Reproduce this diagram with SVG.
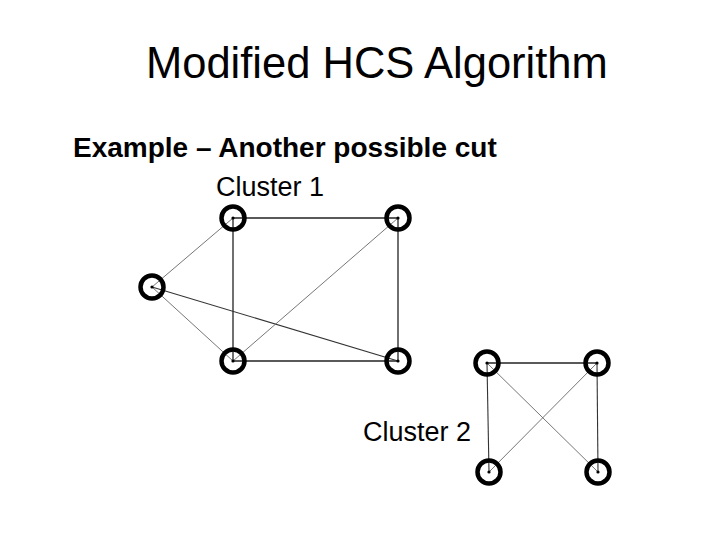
<svg xmlns="http://www.w3.org/2000/svg" width="720" height="540" viewBox="0 0 720 540">
<style>
.t{font-family:"Liberation Sans",Arial,sans-serif;fill:#000}
.n{fill:none;stroke:#000;stroke-width:4.5}
.d{fill:#000}
.e1{stroke:#222;stroke-width:1.3}
.e2{stroke:#666;stroke-width:0.9}
.e3{stroke:#333;stroke-width:1.1}
</style>
<rect width="720" height="540" fill="#fff"/>
<text class="t" x="146" y="78" font-size="43.5">Modified HCS Algorithm</text>
<text class="t" x="73" y="157" font-size="28" font-weight="bold">Example – Another possible cut</text>
<text class="t" x="216" y="196" font-size="27">Cluster 1</text>
<text class="t" x="363" y="441" font-size="27">Cluster 2</text>
<g id="connectors">
<line class="e1" x1="233" y1="218" x2="398" y2="218"/>
<line class="e1" x1="233" y1="218" x2="233" y2="361"/>
<line class="e1" x1="398" y1="218" x2="398" y2="361"/>
<line class="e1" x1="233" y1="361" x2="398" y2="361"/>
<line class="e2" x1="152" y1="287" x2="233" y2="218"/>
<line class="e2" x1="152" y1="287" x2="233" y2="361"/>
<line class="e3" x1="152" y1="287" x2="398" y2="361"/>
<line class="e2" x1="233" y1="361" x2="398" y2="218"/>
<line class="e1" x1="487" y1="363" x2="597" y2="363"/>
<line class="e3" x1="487" y1="363" x2="489" y2="472"/>
<line class="e3" x1="597" y1="363" x2="598" y2="472"/>
<line class="e2" x1="487" y1="363" x2="598" y2="472"/>
<line class="e2" x1="489" y1="472" x2="597" y2="363"/>
</g>
<g id="n1"><circle class="n" cx="233" cy="218" r="11.5"/><circle class="d" cx="233" cy="218" r="1.6"/></g>
<g id="n2"><circle class="n" cx="398" cy="218" r="11.5"/><circle class="d" cx="398" cy="218" r="1.6"/></g>
<g id="n3"><circle class="n" cx="152" cy="287" r="11.5"/><circle class="d" cx="152" cy="287" r="1.6"/></g>
<g id="n4"><circle class="n" cx="233" cy="361" r="11.5"/><circle class="d" cx="233" cy="361" r="1.6"/></g>
<g id="n5"><circle class="n" cx="398" cy="361" r="11.5"/><circle class="d" cx="398" cy="361" r="1.6"/></g>
<g id="m1"><circle class="n" cx="487" cy="363" r="11.5"/><circle class="d" cx="487" cy="363" r="1.6"/></g>
<g id="m2"><circle class="n" cx="597" cy="363" r="11.5"/><circle class="d" cx="597" cy="363" r="1.6"/></g>
<g id="m3"><circle class="n" cx="489" cy="472" r="11.5"/><circle class="d" cx="489" cy="472" r="1.6"/></g>
<g id="m4"><circle class="n" cx="598" cy="472" r="11.5"/><circle class="d" cx="598" cy="472" r="1.6"/></g>
</svg>
